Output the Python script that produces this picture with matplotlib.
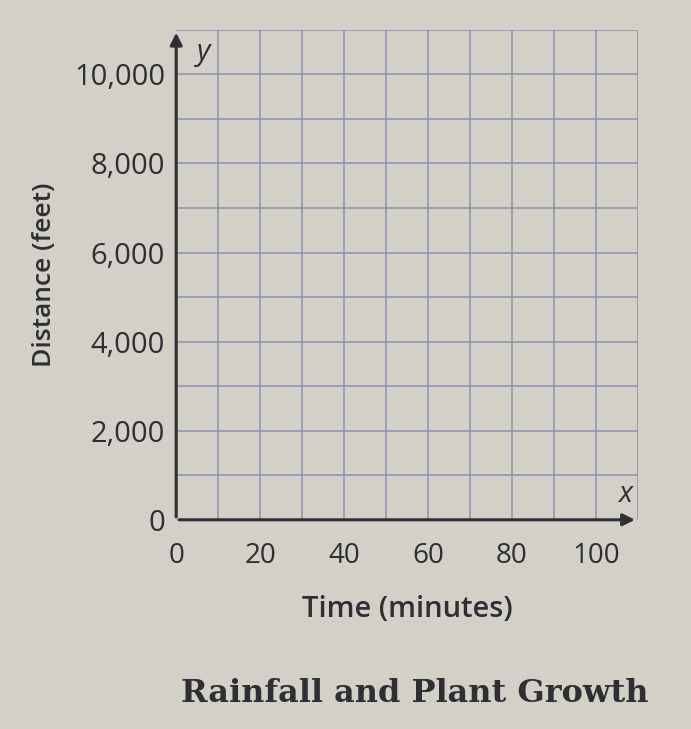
import matplotlib.pyplot as plt
import numpy as np

# axis ranges and tick labels
x_ticks = [0, 20, 40, 60, 80, 100]
y_ticks = [0, 2000, 4000, 6000, 8000, 10000]
y_labels = ['0', '2,000', '4,000', '6,000', '8,000', '10,000']
x_max = 110
y_max = 11000
x_step = 10
y_step = 1000

paper = '#d3d0c8'
ink = '#2e2e33'
grid_col = '#8d90ad'

fig = plt.figure(figsize=(6.91, 7.29), dpi=100, facecolor=paper)
ax = fig.add_axes([0.255, 0.287, 0.668, 0.672])
ax.set_facecolor(paper)

ax.set_xlim(0, x_max)
ax.set_ylim(0, y_max)

# grid lines every step
for gx in np.arange(x_step, x_max + 1, x_step):
    ax.axvline(gx, color=grid_col, lw=1.1, zorder=1)
for gy in np.arange(y_step, y_max + 1, y_step):
    ax.axhline(gy, color=grid_col, lw=1.1, zorder=1)

for s in ax.spines.values():
    s.set_visible(False)

# axes with arrows
ax.annotate('', xy=(x_max, 0), xytext=(0, 0),
            arrowprops=dict(arrowstyle='-|>', color=ink, lw=2.2, mutation_scale=18),
            annotation_clip=False, zorder=3)
ax.annotate('', xy=(0, y_max), xytext=(0, 0),
            arrowprops=dict(arrowstyle='-|>', color=ink, lw=2.2, mutation_scale=18),
            annotation_clip=False, zorder=3)
ax.text(x_max - 3, 250, 'x', fontsize=21, style='italic', color=ink,
        family='Open Sans', ha='center', va='bottom')
ax.text(6.5, y_max - 500, 'y', fontsize=21, style='italic', color=ink,
        family='Open Sans', ha='center', va='center')

ax.set_xticks(x_ticks)
ax.set_xticklabels([str(v) for v in x_ticks])
ax.set_yticks(y_ticks)
ax.set_yticklabels(y_labels)
ax.tick_params(length=0, colors=ink)
ax.tick_params(axis='x', pad=16, labelsize=20)
ax.tick_params(axis='y', pad=8, labelsize=21)
for lab in ax.get_xticklabels() + ax.get_yticklabels():
    lab.set_family('Open Sans')

ax.set_xlabel('Time (minutes)', fontsize=21, family='Open Sans',
              fontweight='semibold', color=ink, labelpad=18)
ax.set_ylabel('Distance (feet)', fontsize=19, family='Open Sans',
              fontweight='semibold', color=ink, labelpad=12)

fig.text(0.60, 0.049, 'Rainfall and Plant Growth', fontsize=23,
         family='DejaVu Serif', fontweight='bold', color=ink,
         ha='center', va='center')

fig.savefig('out.png', dpi=100, facecolor=paper)
